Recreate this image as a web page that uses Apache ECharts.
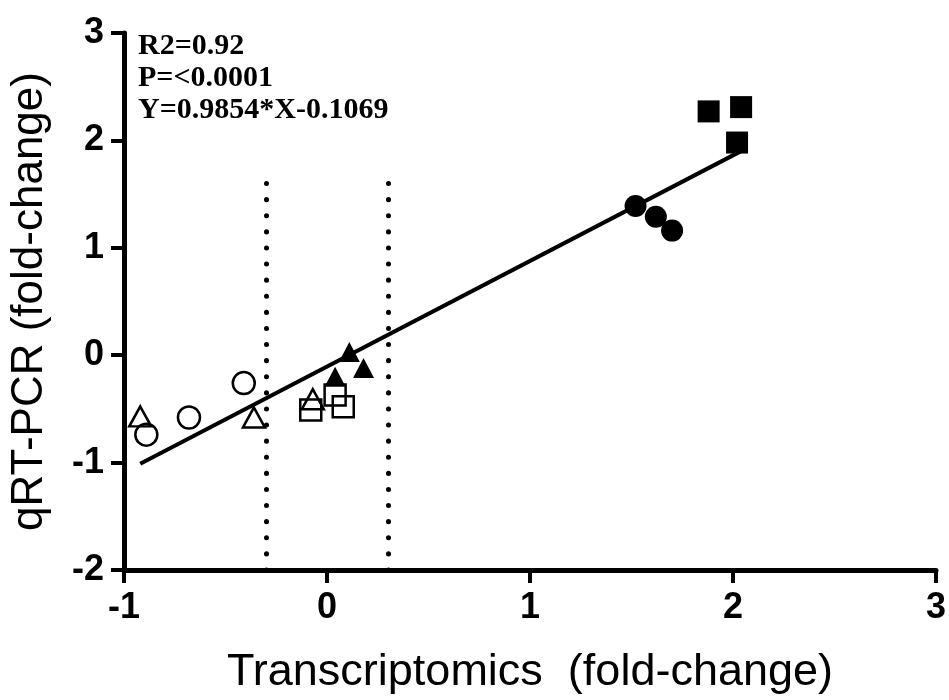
<!DOCTYPE html>
<html>
<head>
<meta charset="utf-8">
<script src="https://cdn.jsdelivr.net/npm/echarts@6/dist/echarts.min.js"></script>
<style>html,body{margin:0;padding:0;background:#fff;} #main{width:949px;height:700px;}</style>
</head>
<body>
<div id="main"></div>
<script>
// values: [transcriptomics, qRT-PCR]
var filledSquares = [[1.88, 2.27], [2.04, 2.31], [2.02, 1.98]];
var filledCircles = [[1.52, 1.39], [1.62, 1.29], [1.70, 1.16]];
var filledTriangles = [[0.11, 0.03], [0.18, -0.12], [0.04, -0.20]];
var openSquares = [[-0.08, -0.51], [0.04, -0.37], [0.08, -0.48]];
var openTriangles = [[-0.92, -0.57], [-0.36, -0.58], [-0.07, -0.41]];
var openCircles = [[-0.41, -0.26], [-0.68, -0.58], [-0.89, -0.74]];
var fitLine = [[-0.92, -1.01], [2.04, 1.90]];
var cutoffs = [-0.3, 0.3];
var cutoffRange = [-2, 1.68];
var statsText = ['R2=0.92', 'P=<0.0001', 'Y=0.9854*X-0.1069'];

var myChart = echarts.init(document.getElementById('main'));

function filled(name, data, symbol, size) {
  return {
    name: name, type: 'scatter', data: data, symbol: symbol, symbolSize: size,
    itemStyle: { color: '#000', opacity: 1 }, z: 3, silent: true
  };
}
function open(name, data, symbol, size) {
  return {
    name: name, type: 'scatter', data: data, symbol: symbol, symbolSize: size,
    itemStyle: { color: 'rgba(0,0,0,0)', borderColor: '#000', borderWidth: 2.5, opacity: 1 }, z: 3, silent: true
  };
}

var dotStyle = { color: '#000', width: 5, type: [0.1, 16], cap: 'round' };

var option = {
  animation: false,
  backgroundColor: '#fff',
  grid: { left: 118, right: 11, top: 33, bottom: 127 },
  xAxis: {
    type: 'value', min: -1, max: 3, interval: 1,
    name: 'Transcriptomics  (fold-change)', nameLocation: 'middle', nameGap: 80,
    nameTextStyle: { fontFamily: 'Liberation Sans', fontSize: 45, color: '#000' },
    axisLine: { onZero: false, lineStyle: { color: '#000', width: 5 } },
    axisTick: { length: 13, lineStyle: { color: '#000', width: 4 } },
    axisLabel: { margin: 20, fontFamily: 'Liberation Sans', fontWeight: 'bold', fontSize: 36, color: '#000' },
    splitLine: { show: false }
  },
  yAxis: {
    type: 'value', min: -2, max: 3, interval: 1,
    name: 'qRT-PCR (fold-change)', nameLocation: 'middle', nameGap: 72,
    nameTextStyle: { fontFamily: 'Liberation Sans', fontSize: 44, color: '#000' },
    axisLine: { onZero: false, lineStyle: { color: '#000', width: 5 } },
    axisTick: { length: 13, lineStyle: { color: '#000', width: 4 } },
    axisLabel: { margin: 20, fontFamily: 'Liberation Sans', fontWeight: 'bold', fontSize: 36, color: '#000' },
    splitLine: { show: false }
  },
  graphic: [{
    type: 'text', left: 138, top: 30,
    style: {
      text: statsText.join('\n'),
      font: 'bold 30px "Liberation Serif"',
      lineHeight: 32, fill: '#000'
    }
  }],
  series: [
    {
      name: 'cutoffs', type: 'line', data: [], silent: true,
      markLine: {
        symbol: 'none', silent: true, label: { show: false },
        lineStyle: dotStyle,
        data: cutoffs.map(function (c) {
          return [{ coord: [c, cutoffRange[0]] }, { coord: [c, cutoffRange[1]] }];
        })
      }
    },
    {
      name: 'fit', type: 'line', data: fitLine, symbol: 'none', silent: true, z: 4,
      lineStyle: { color: '#000', width: 4 }
    },
    filled('filledSquares', filledSquares, 'rect', 22),
    filled('filledCircles', filledCircles, 'circle', 22),
    filled('filledTriangles', filledTriangles, 'triangle', [21, 20]),
    open('openSquares', openSquares, 'rect', 21),
    open('openTriangles', openTriangles, 'triangle', [22, 20]),
    open('openCircles', openCircles, 'circle', 22)
  ]
};
myChart.setOption(option);
</script>
</body>
</html>
